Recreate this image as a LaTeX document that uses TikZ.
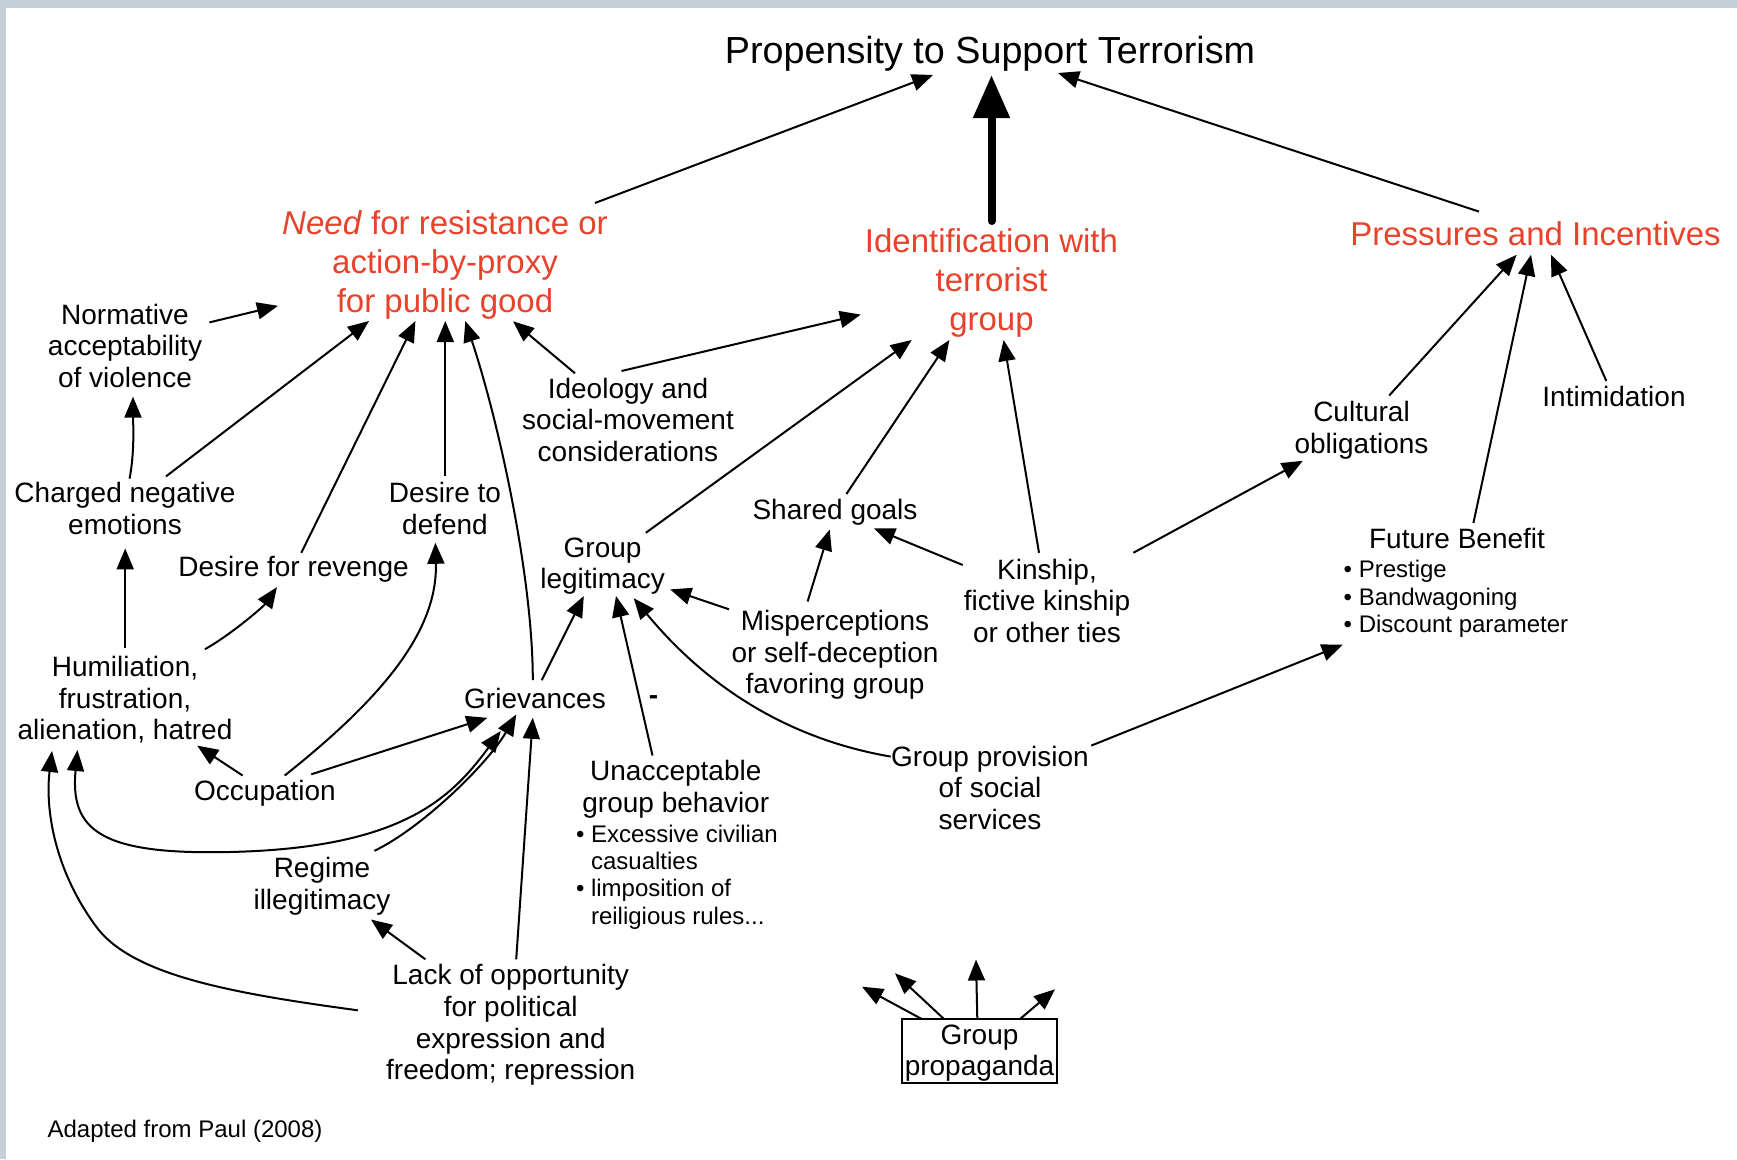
\documentclass[tikz,border=0pt]{standalone}
\usepackage{fontspec}
\setmainfont{Liberation Sans}
\usetikzlibrary{arrows.meta}
\definecolor{headred}{RGB}{233,66,44}
\definecolor{framegray}{RGB}{197,208,214}

\begin{document}
\begin{tikzpicture}[x=1pt,y=-1pt,
  every node/.style={inner sep=0pt, outer sep=0pt},
  txt/.style={align=center, font=\fontsize{28pt}{31.6pt}\selectfont},
  small/.style={align=left, font=\fontsize{24pt}{27.3pt}\selectfont},
  head/.style={align=center, text=headred, font=\fontsize{33pt}{38.6pt}\selectfont},
  toptitle/.style={font=\fontsize{37.7pt}{42pt}\selectfont},
  arr/.style={draw, line width=2pt, -{Triangle[length=21pt,width=17pt]}},
  biarr/.style={draw, line width=2pt, {Triangle[length=21pt,width=17pt]}-{Triangle[length=21pt,width=17pt]}},
  bigarr/.style={draw, line width=8pt, line cap=round, -{Triangle[length=43pt,width=35pt]}}
]
\useasboundingbox (0,0) rectangle (1737,1159);
% page frame
\fill[framegray] (0,0) rectangle (1737,8);
\fill[framegray] (0,0) rectangle (6,1159);

% nodes
\node[toptitle] (title) at (990,53.5) {Propensity to Support Terrorism};
\node[head] (need) at (445,265) {\textit{Need} for resistance or\\action-by-proxy\\for public good};
\node[head] (ident) at (991.5,283) {Identification with\\terrorist\\group};
\node[head] (press) at (1535.5,234) {Pressures and Incentives};
\node[txt] (norm) at (125,345.7) {Normative\\acceptability\\of violence};
\node[txt] (charged) at (125,508.7) {Charged negative\\emotions};
\node[txt] (defend) at (445,508.7) {Desire to\\defend};
\node[txt] (revenge) at (293.6,569) {Desire for revenge};
\node[txt] (ideol) at (628,419.6) {Ideology and\\social-movement\\considerations};
\node[txt] (legit) at (602.6,566) {Group\\legitimacy};
\node[txt] (shared) at (835,511.8) {Shared goals};
\node[txt] (misper) at (835,655) {Misperceptions\\or self-deception\\favoring group};
\node[txt] (kin) at (1047,600.7) {Kinship,\\fictive kinship\\or other ties};
\node[txt] (cult) at (1361.5,430) {Cultural\\obligations};
\node[txt] (intim) at (1614,396.6) {Intimidation};
\node[txt] (future) at (1457,538) {Future Benefit};
\node[small, anchor=west] (futurelist) at (1343.7,599) {• Prestige\\• Bandwagoning\\• Discount parameter};
\node[txt] (humil) at (125,700) {Humiliation,\\frustration,\\alienation, hatred};
\node[txt] (griev) at (535,698) {Grievances};
\node[txt] (occup) at (265,793.2) {Occupation};
\node[txt] (regime) at (322,886) {Regime\\illegitimacy};
\node[txt] (unacc) at (675.8,789) {Unacceptable\\group behavior};
\node[small, anchor=west] (unacclist) at (576,877) {• Excessive civilian\\\phantom{• }casualties\\• limposition of\\\phantom{• }reiligious rules...};
\node[txt] (prov) at (990,787.7) {Group provision\\of social\\services};
\node[txt] (lack) at (510.7,1025) {Lack of opportunity\\for political\\expression and\\freedom; repression};
\node[draw, line width=2pt, minimum width=155pt, minimum height=64pt] (prop) at (979.5,1051) {};
\node[txt] (proptext) at (979.5,1053.2) {Group\\propaganda};
\node[txt] (minus) at (653.6,700.2) {\bfseries -};
\node[small, anchor=west] (source) at (47.6,1131) {Adapted from Paul (2008)};

% connectors into the top node
\draw[arr] ([shift={(150,-62)}]need.center) -- ([shift={(-57,21.5)}]title.center);
\draw[bigarr] ([shift={(0,-62)}]ident.center) -- ([shift={(1.5,21.5)}]title.center);
\draw[arr] ([shift={(-56.5,-22.4)}]press.center) -- ([shift={(68,19.5)}]title.center);

% need for resistance
\draw[arr] ([shift={(84.4,-23.3)}]norm.center) -- ([shift={(-167,40.8)}]need.center);
\draw[arr] ([shift={(41,-32.3)}]charged.center) -- ([shift={(-76,56)}]need.center);
\draw[arr] ([shift={(4.6,-30.1)}]charged.center) .. controls +(5.4,-28.6) and +(0,23.4) .. ([shift={(8,50.9)}]norm.center);
\draw[arr] ([shift={(7.7,-16.2)}]revenge.center) -- ([shift={(-29.6,56)}]need.center);
\draw[arr] ([shift={(0.3,-32.3)}]defend.center) -- ([shift={(0.3,56)}]need.center);
\draw[arr] ([shift={(-2.2,-17.8)}]griev.center) .. controls +(0,-104.2) and +(33.2,100) .. ([shift={(20.3,56)}]need.center);
\draw[arr] ([shift={(-53,-46.3)}]ideol.center) -- ([shift={(68,56.3)}]need.center);

% identification with the group
\draw[arr] ([shift={(-6.5,-48.6)}]ideol.center) -- ([shift={(-130.7,31.6)}]ident.center);
\draw[arr] ([shift={(43.2,-33.2)}]legit.center) -- ([shift={(-79.8,57)}]ident.center);
\draw[arr] ([shift={(11.4,-17.8)}]shared.center) -- ([shift={(-42.1,57)}]ident.center);
\draw[arr] ([shift={(-8,-47.9)}]kin.center) -- ([shift={(12.1,57)}]ident.center);
\draw[arr] ([shift={(-84.3,-35.7)}]kin.center) -- ([shift={(39,16.6)}]shared.center);
\draw[arr] ([shift={(-27.4,-53.5)}]misper.center) -- ([shift={(-5.3,17.7)}]shared.center);
\draw[arr] ([shift={(-106,-45.7)}]misper.center) -- ([shift={(67.6,23.4)}]legit.center);

% pressures and incentives
\draw[arr] ([shift={(86.3,-47.9)}]kin.center) -- ([shift={(-58.7,30.8)}]cult.center);
\draw[arr] ([shift={(27.7,-34.5)}]cult.center) -- ([shift={(-18.9,20.8)}]press.center);
\draw[arr] ([shift={(16.4,-15)}]future.center) -- ([shift={(-4.5,20.8)}]press.center);
\draw[arr] ([shift={(-7.7,-15.6)}]intim.center) -- ([shift={(15.5,20.8)}]press.center);

% lower left causes
\draw[arr] ([shift={(0.2,-52)}]humil.center) -- ([shift={(0.2,39.7)}]charged.center);
\draw[arr] ([shift={(80,-50.8)}]humil.center) .. controls +(25,-14) and +(-14,20) .. ([shift={(-16.6,18.1)}]revenge.center);
\draw[arr] ([shift={(-22.4,-17.7)}]occup.center) -- ([shift={(72.2,45.6)}]humil.center);
\draw[arr] ([shift={(19.7,-17.7)}]occup.center) .. controls +(97.5,-77.5) and +(2.2,88.6) .. ([shift={(-9.6,34.1)}]defend.center);
\draw[arr] ([shift={(46.3,-18.9)}]occup.center) -- ([shift={(-47.6,19.8)}]griev.center);
\draw[arr] ([shift={(6.7,-17.8)}]griev.center) -- ([shift={(-18.8,30)}]legit.center);
\draw[arr] ([shift={(-23.3,-33.5)}]unacc.center) -- ([shift={(13.4,30)}]legit.center);
\draw[arr] ([shift={(-99.3,-31.1)}]prov.center) .. controls +(-115.2,-19.9) and +(64.3,77.6) .. ([shift={(31.1,32.2)}]legit.center);
\draw[arr] ([shift={(101.2,-42.1)}]prov.center) -- ([shift={(-114.3,106.7)}]future.center);
\draw[arr] ([shift={(52.4,-35.2)}]regime.center) .. controls +(46.6,-22.2) and +(-28.8,49.9) .. ([shift={(-18.8,16.5)}]griev.center);

% long loops along the bottom left
\coordinate (loopA) at (230,852);
\draw[biarr] ([shift={(-34.3,33)}]griev.center) .. controls (450,800) and (400,848) .. (loopA) .. controls (100,855) and (70,830) .. ([shift={(-47.5,50)}]humil.center);
\coordinate (loopB) at (95,925);
\draw[arr] ([shift={(-152.9,-14.7)}]lack.center) .. controls (230,993) and (130,975) .. (loopB) .. controls (55,870) and (45,810) .. ([shift={(-73,51)}]humil.center);
\draw[arr] ([shift={(-85.3,-65.7)}]lack.center) -- ([shift={(49,33.5)}]regime.center);
\draw[arr] ([shift={(5.5,-65.7)}]lack.center) -- ([shift={(-2.2,19.8)}]griev.center);

% propaganda fans out
\coordinate (pa) at (862,986.7);
\coordinate (pb) at (895,973.3);
\coordinate (pc) at (976,959.5);
\coordinate (pd) at (1055,989.3);
\draw[arr] ([xshift=-57.8pt]prop.north) -- (pa);
\draw[arr] ([xshift=-35.5pt]prop.north) -- (pb);
\draw[arr] ([xshift=-2.2pt]prop.north) -- (pc);
\draw[arr] ([xshift=40.5pt]prop.north) -- (pd);
\end{tikzpicture}
\end{document}
